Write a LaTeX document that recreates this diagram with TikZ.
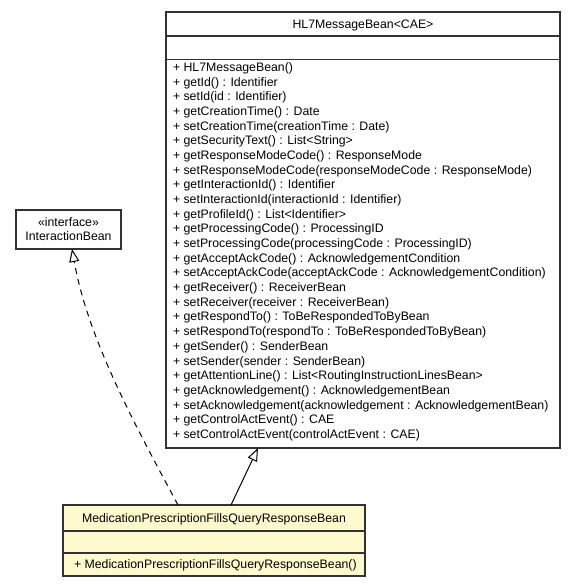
\documentclass[tikz,border=0pt]{standalone}
\usepackage{fontspec}
\setmainfont{Liberation Sans}
\usetikzlibrary{arrows.meta}
\definecolor{classfill}{RGB}{255,250,205}
\definecolor{umlline}{RGB}{50,50,50}
\tikzset{
  umlbox/.style={draw=umlline, line width=1.2bp, inner sep=0pt, outer sep=0pt, anchor=north west},
  umltext/.style={inner sep=0pt, outer sep=0pt, font=\fontsize{12.3bp}{14.7bp}\selectfont},
  sepline/.style={draw=umlline, line width=1.2bp},
  genarrow/.style={draw=black, line width=1bp, -{Triangle[open, length=13bp, width=10bp, line width=1bp]}},
  realarrow/.style={draw=black, line width=1bp, dash pattern=on 6bp off 5bp, -{Triangle[open, length=13bp, width=10bp, line width=1bp]}}
}
\begin{document}
\begin{tikzpicture}[x=1bp, y=-1bp]
\useasboundingbox (0,0) rectangle (575,587);
% HL7MessageBean box
\node[umlbox, minimum width=394bp, minimum height=436bp] (hl7) at (166,12) {};
\draw[sepline] (166,36) -- (560,36);
\draw[sepline] (166,59.5) -- (560,59.5);
\node[umltext, anchor=base] (hl7title) at (363,28.3) {HL7MessageBean<CAE>};
\foreach \t [count=\i from 0] in {
{+ HL7MessageBean()},
{+ getId() : Identifier},
{+ setId(id : Identifier)},
{+ getCreationTime() : Date},
{+ setCreationTime(creationTime : Date)},
{+ getSecurityText() : List<String>},
{+ getResponseModeCode() : ResponseMode},
{+ setResponseModeCode(responseModeCode : ResponseMode)},
{+ getInteractionId() : Identifier},
{+ setInteractionId(interactionId : Identifier)},
{+ getProfileId() : List<Identifier>},
{+ getProcessingCode() : ProcessingID},
{+ setProcessingCode(processingCode : ProcessingID)},
{+ getAcceptAckCode() : AcknowledgementCondition},
{+ setAcceptAckCode(acceptAckCode : AcknowledgementCondition)},
{+ getReceiver() : ReceiverBean},
{+ setReceiver(receiver : ReceiverBean)},
{+ getRespondTo() : ToBeRespondedToByBean},
{+ setRespondTo(respondTo : ToBeRespondedToByBean)},
{+ getSender() : SenderBean},
{+ setSender(sender : SenderBean)},
{+ getAttentionLine() : List<RoutingInstructionLinesBean>},
{+ getAcknowledgement() : AcknowledgementBean},
{+ setAcknowledgement(acknowledgement : AcknowledgementBean)},
{+ getControlActEvent() : CAE},
{+ setControlActEvent(controlActEvent : CAE)}} {
  \node[umltext, anchor=base west] (hm\i) at (173,71.4+14.68*\i) {\t};
}
% InteractionBean interface
\node[umlbox, minimum width=105bp, minimum height=39bp] (iface) at (16,210) {};
\node[umltext, anchor=base] (ifacestereo) at (68.5,226.3) {«interface»};
\node[umltext, anchor=base] (ifacename) at (68.5,240.3) {InteractionBean};
% MedicationPrescriptionFillsQueryResponseBean
\node[umlbox, fill=classfill, minimum width=302bp, minimum height=71bp] (med) at (63,505) {};
\draw[sepline] (63,531) -- (365,531);
\draw[sepline] (63,553) -- (365,553);
\node[umltext, anchor=base] (medtitle) at (214,522.3) {MedicationPrescriptionFillsQueryResponseBean};
\node[umltext, anchor=base west] (medm0) at (74,568.3) {+ MedicationPrescriptionFillsQueryResponseBean()};
% connectors
\draw[genarrow] ([xshift=168bp]med.north west) -- ([xshift=92bp]hl7.south west);
\draw[realarrow] ([xshift=115bp]med.north west) .. controls (135,425) and (88,339) .. ([xshift=56bp]iface.south west);
\end{tikzpicture}
\end{document}
